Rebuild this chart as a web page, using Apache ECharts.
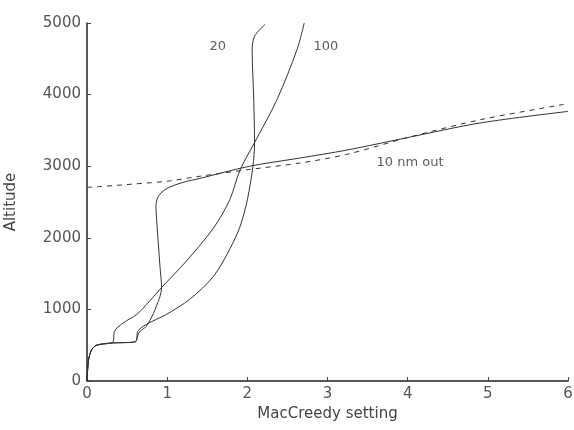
<!DOCTYPE html>
<html>
<head>
<meta charset="utf-8">
<script src="https://cdn.jsdelivr.net/npm/echarts@6/dist/echarts.min.js"></script>
<style>
  html, body { margin: 0; padding: 0; background: #fff; }
  #chart { width: 574px; height: 430px; }
</style>
</head>
<body>
<div id="chart"></div>
<script>
// 读图估计的曲线数据 [MacCready, altitude]
const curve100 = [
  [0, 0], [0.02, 300], [0.06, 440], [0.12, 500], [0.3, 530], [0.33, 560], [0.34, 690],
  [0.45, 810], [0.62, 930], [0.78, 1115], [0.93, 1305], [1.24, 1675], [1.58, 2140],
  [1.78, 2530], [1.91, 2950], [2.09, 3330], [2.37, 3930], [2.62, 4630], [2.71, 5000]
]
const curve20 = [
  [0, 0], [0.02, 300], [0.06, 440], [0.12, 500], [0.3, 530], [0.6, 545], [0.62, 580],
  [0.63, 690], [0.74, 790], [0.99, 930], [1.28, 1140], [1.58, 1465], [1.78, 1840],
  [1.91, 2160], [2.0, 2530], [2.07, 3000], [2.09, 3330], [2.08, 3930], [2.06, 4630],
  [2.09, 4815], [2.22, 4980]
]
const curve10nm = [
  [0, 0], [0.02, 300], [0.06, 440], [0.12, 500], [0.3, 530], [0.6, 545], [0.62, 580],
  [0.65, 680], [0.74, 765], [0.85, 1000], [0.93, 1305], [0.91, 1605], [0.87, 2230],
  [0.86, 2440], [0.89, 2580], [0.99, 2685], [1.2, 2775], [1.41, 2830], [2.03, 3000],
  [2.66, 3115], [3.24, 3225], [4.0, 3400], [4.91, 3605], [6.0, 3765]
]
const dashed10nm = [
  [0, 2705], [0.16, 2715], [0.57, 2750], [1.0, 2790], [1.41, 2860], [2.03, 2955],
  [2.66, 3045], [3.24, 3165], [4.0, 3400], [4.91, 3650], [5.93, 3860], [6.0, 3875]
]
// 曲线标注
const annotations = [
  [1.63, 4670, '20'],
  [2.98, 4670, '100'],
  [4.03, 3050, '10 nm out']
]
const xTicks = [0, 1, 2, 3, 4, 5, 6]

const font = 'DejaVu Sans'
const ink = '#333'
const chart = echarts.init(document.getElementById('chart'))

const lineSeries = (data, dashed) => ({
  type: 'line',
  data,
  showSymbol: false,
  smooth: 0.3,
  silent: true,
  lineStyle: { color: ink, width: 1, type: dashed ? [5, 5] : 'solid' },
  z: 2
})

chart.setOption({
  animation: false,
  grid: { left: 87, right: 6, top: 23, bottom: 49, outerBoundsMode: 'none', containLabel: false },
  xAxis: {
    type: 'value',
    min: xTicks[0],
    max: xTicks[xTicks.length - 1],
    interval: 1,
    name: 'MacCreedy setting',
    nameLocation: 'middle',
    nameGap: 24,
    nameTextStyle: { fontFamily: font, fontSize: 15, color: '#444' },
    axisLine: { lineStyle: { color: '#222', width: 1.5 } },
    axisTick: { inside: true, length: 4, lineStyle: { color: '#444' } },
    axisLabel: { fontFamily: font, fontSize: 15, color: '#555', margin: 6 },
    splitLine: { show: false }
  },
  yAxis: {
    type: 'value',
    min: 0,
    max: 5000,
    interval: 1000,
    name: 'Altitude',
    nameLocation: 'middle',
    nameGap: 68,
    nameTextStyle: { fontFamily: font, fontSize: 15, color: '#444' },
    axisLine: { show: true, lineStyle: { color: '#222', width: 1.5 } },
    axisTick: { show: true, inside: true, length: 4, lineStyle: { color: '#444' } },
    axisLabel: { fontFamily: font, fontSize: 15, color: '#555', margin: 6, formatter: v => String(v) },
    splitLine: { show: false }
  },
  series: [
    lineSeries(curve100, false),
    lineSeries(curve20, false),
    lineSeries(curve10nm, false),
    lineSeries(dashed10nm, true),
    {
      type: 'scatter',
      data: annotations.map(a => ({ value: [a[0], a[1]], name: a[2] })),
      symbolSize: 0,
      silent: true,
      label: {
        show: true,
        position: 'inside',
        formatter: p => p.name,
        fontFamily: font,
        fontSize: 13,
        color: '#333'
      }
    }
  ]
})
</script>
</body>
</html>
